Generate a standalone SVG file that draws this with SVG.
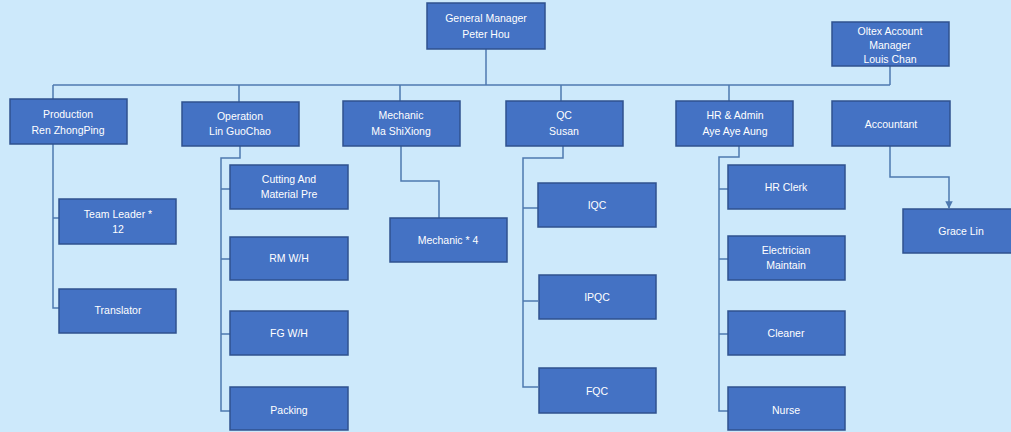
<svg xmlns="http://www.w3.org/2000/svg" width="1011" height="432" viewBox="0 0 1011 432">
<defs>
<style>
.b{fill:#4472C4;stroke:#2F528F;stroke-width:1.5}
.t{fill:#FFFFFF;font-family:"Liberation Sans","Open Sans",sans-serif;font-size:10.5px;text-anchor:middle}
.c{fill:none;stroke:#4E79B0;stroke-width:1.5}
</style>
<marker id="ah" viewBox="0 0 10 10" refX="9" refY="5" markerWidth="5" markerHeight="5" orient="auto">
<path d="M0,0 L10,5 L0,10 Z" fill="#4E79B0"/>
</marker>
</defs>
<rect width="1011" height="432" fill="#CDE9FB"/>
<g id="connectors">
<path class="c" d="M486,49 V85"/>
<path class="c" d="M890,66 V85"/>
<path class="c" d="M53,85 H890"/>
<path class="c" d="M53,85 V99 M239,85 V102 M400,85 V101 M561,85 V101 M729,85 V101"/>
<path class="c" d="M53,144 V308 H59 M53,218 H59"/>
<path class="c" d="M240,146 V158 H221 V411 H230 M221,189 H230 M221,259 H230 M221,334 H230"/>
<path class="c" d="M401,146 V181 H439 V218"/>
<path class="c" d="M563,146 V158 H523 V387 H538 M523,208 H538 M523,301 H538"/>
<path class="c" d="M739,146 V157 H719 V411 H728 M719,189 H728 M719,259 H728 M719,334 H728"/>
<path class="c" d="M890,146 V177 H949 V208" marker-end="url(#ah)"/>
</g>
<g id="gm"><rect class="b" x="427" y="3" width="118" height="46"/><text class="t" x="486" y="22">General Manager</text><text class="t" x="486" y="38">Peter Hou</text></g>
<g id="oltex"><rect class="b" x="832" y="22" width="117" height="44"/><text class="t" x="890" y="35">Oltex Account</text><text class="t" x="890" y="49">Manager</text><text class="t" x="890" y="63">Louis Chan</text></g>
<g id="production"><rect class="b" x="10" y="99" width="117" height="45"/><text class="t" x="68" y="118">Production</text><text class="t" x="68" y="134">Ren ZhongPing</text></g>
<g id="operation"><rect class="b" x="182" y="102" width="117" height="44"/><text class="t" x="240" y="120">Operation</text><text class="t" x="240" y="135">Lin GuoChao</text></g>
<g id="mechanic"><rect class="b" x="343" y="101" width="117" height="45"/><text class="t" x="401" y="119">Mechanic</text><text class="t" x="401" y="135">Ma ShiXiong</text></g>
<g id="qc"><rect class="b" x="506" y="101" width="117" height="45"/><text class="t" x="564" y="119">QC</text><text class="t" x="564" y="135">Susan</text></g>
<g id="hr"><rect class="b" x="676" y="101" width="117" height="45"/><text class="t" x="735" y="119">HR &amp; Admin</text><text class="t" x="735" y="135">Aye Aye Aung</text></g>
<g id="accountant"><rect class="b" x="832" y="101" width="118" height="45"/><text class="t" x="891" y="128">Accountant</text></g>
<g id="teamleader"><rect class="b" x="59" y="199" width="117" height="45"/><text class="t" x="118" y="218">Team Leader *</text><text class="t" x="118" y="233">12</text></g>
<g id="translator"><rect class="b" x="59" y="289" width="117" height="44"/><text class="t" x="118" y="314">Translator</text></g>
<g id="cutting"><rect class="b" x="230" y="165" width="118" height="44"/><text class="t" x="289" y="183">Cutting And</text><text class="t" x="289" y="198">Material Pre</text></g>
<g id="rmwh"><rect class="b" x="230" y="237" width="118" height="43"/><text class="t" x="289" y="262">RM W/H</text></g>
<g id="fgwh"><rect class="b" x="230" y="311" width="118" height="44"/><text class="t" x="289" y="337">FG W/H</text></g>
<g id="packing"><rect class="b" x="230" y="387" width="118" height="43"/><text class="t" x="289" y="414">Packing</text></g>
<g id="mechanic4"><rect class="b" x="390" y="218" width="117" height="44"/><text class="t" x="448" y="244">Mechanic * 4</text></g>
<g id="iqc"><rect class="b" x="538" y="183" width="118" height="44"/><text class="t" x="597" y="209">IQC</text></g>
<g id="ipqc"><rect class="b" x="539" y="275" width="117" height="44"/><text class="t" x="597" y="301">IPQC</text></g>
<g id="fqc"><rect class="b" x="539" y="368" width="117" height="45"/><text class="t" x="597" y="395">FQC</text></g>
<g id="hrclerk"><rect class="b" x="728" y="165" width="117" height="44"/><text class="t" x="786" y="191">HR Clerk</text></g>
<g id="electrician"><rect class="b" x="728" y="236" width="117" height="44"/><text class="t" x="786" y="254">Electrician</text><text class="t" x="786" y="269">Maintain</text></g>
<g id="cleaner"><rect class="b" x="728" y="311" width="117" height="44"/><text class="t" x="786" y="337">Cleaner</text></g>
<g id="nurse"><rect class="b" x="728" y="387" width="117" height="43"/><text class="t" x="786" y="414">Nurse</text></g>
<g id="gracelin"><rect class="b" x="903" y="209" width="110" height="44"/><text class="t" x="961" y="235">Grace Lin</text></g>
</svg>
